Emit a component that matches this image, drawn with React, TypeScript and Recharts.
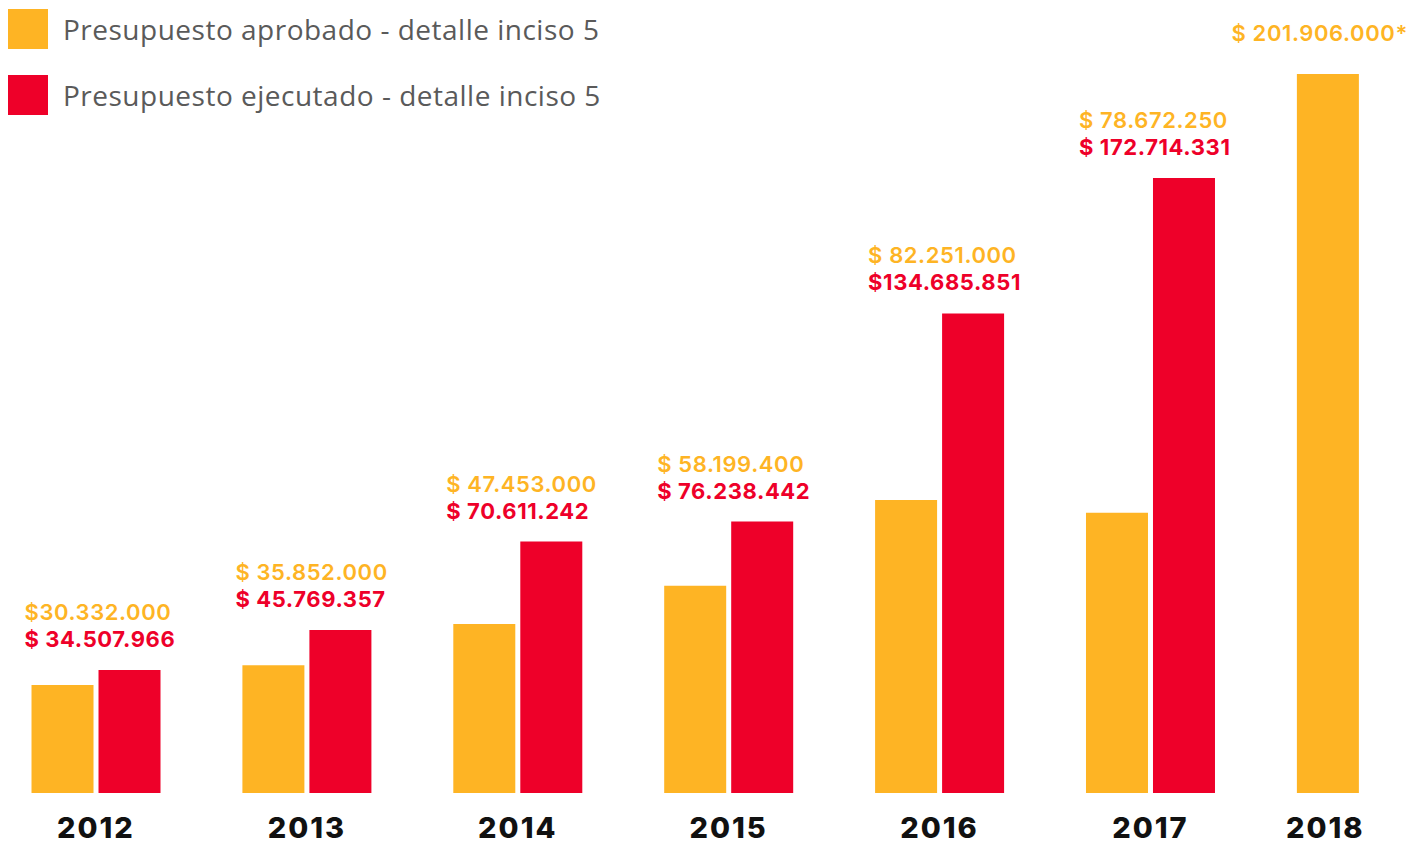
import React from "react";
import { Bar, BarChart, LabelList, XAxis, YAxis } from "recharts";

const years = [2012, 2013, 2014, 2015, 2016, 2017, 2018];
const approved = [30332000, 35852000, 47453000, 58199400, 82251000, 78672250, 201906000];
const executed = [34507966, 45769357, 70611242, 76238442, 134685851, 172714331, null];
const approvedLabels = [
  "$30.332.000",
  "$ 35.852.000",
  "$ 47.453.000",
  "$ 58.199.400",
  "$ 82.251.000",
  "$ 78.672.250",
  "$ 201.906.000*",
];
const executedLabels = [
  "$ 34.507.966",
  "$ 45.769.357",
  "$ 70.611.242",
  "$ 76.238.442",
  "$134.685.851",
  "$ 172.714.331",
  "",
];

const YELLOW = "#FEB424";
const RED = "#EE0029";
const LABEL_FONT = "Inter, sans-serif";

const data = years.map((year, i) => ({
  year,
  approved: approved[i],
  executed: executed[i],
}));

const YearTick = ({ x, y, payload, index }: any) => {
  // a year with only one bar: centre the label under that bar
  const single = executed[index] == null;
  return (
    <text
      x={single ? x - 36 : x}
      y={y + 37}
      textAnchor="middle"
      fill="#111"
      fontFamily={LABEL_FONT}
      fontWeight={800}
      fontSize={29}
      letterSpacing={2}
    >
      {payload.value}
    </text>
  );
};

const GroupLabel = ({ x, y, value, index }: any) => {
  if (value == null) return null;
  const left = x - 74;
  const base = y - 23;
  return (
    <g fontFamily={LABEL_FONT} fontSize={22} letterSpacing={0.6}>
      <text x={left} y={base - 27} fill={YELLOW} fontWeight={600}>
        {approvedLabels[index]}
      </text>
      <text x={left} y={base} fill={RED} fontWeight={700}>
        {executedLabels[index]}
      </text>
    </g>
  );
};

const SingleLabel = ({ x, y, width, index }: any) => {
  if (executed[index] != null) return null;
  return (
    <text
      x={x + width / 2 + 80}
      y={y - 33}
      textAnchor="end"
      fill={YELLOW}
      fontFamily={LABEL_FONT}
      fontWeight={600}
      fontSize={22}
      letterSpacing={0.6}
    >
      {approvedLabels[index]}
    </text>
  );
};

const legendItems = [
  { label: "Presupuesto aprobado - detalle inciso 5", color: YELLOW },
  { label: "Presupuesto ejecutado - detalle inciso 5", color: RED },
];

export default function App() {
  return (
    <div style={{ position: "absolute", left: 0, top: 0, width: 1413, height: 845 }}>
      <BarChart
        width={1413}
        height={845}
        data={data}
        margin={{ top: 74, right: 0, left: 0, bottom: 0 }}
        barGap={5}
        barSize={62}
      >
        <XAxis
          dataKey="year"
          type="number"
          domain={[2011.545, 2018.245]}
          allowDataOverflow
          ticks={years}
          interval={0}
          axisLine={false}
          tickLine={false}
          height={52}
          tick={<YearTick />}
        />
        <YAxis hide type="number" domain={[0, 201906000]} allowDataOverflow />
        <Bar dataKey="approved" fill={YELLOW} isAnimationActive={false}>
          <LabelList dataKey="approved" content={<SingleLabel />} />
        </Bar>
        <Bar dataKey="executed" fill={RED} isAnimationActive={false}>
          <LabelList dataKey="executed" content={<GroupLabel />} />
        </Bar>
      </BarChart>
      <div style={{ position: "absolute", left: 8, top: 9 }}>
        {legendItems.map((item) => (
          <div key={item.label} style={{ display: "flex", alignItems: "center", height: 40, marginBottom: 26 }}>
            <div style={{ width: 40, height: 40, background: item.color }} />
            <span
              style={{
                marginLeft: 15,
                fontFamily: "'Open Sans', sans-serif",
                fontSize: 28,
                letterSpacing: 0.5,
                color: "#5a5a5a",
                whiteSpace: "nowrap",
              }}
            >
              {item.label}
            </span>
          </div>
        ))}
      </div>
    </div>
  );
}
